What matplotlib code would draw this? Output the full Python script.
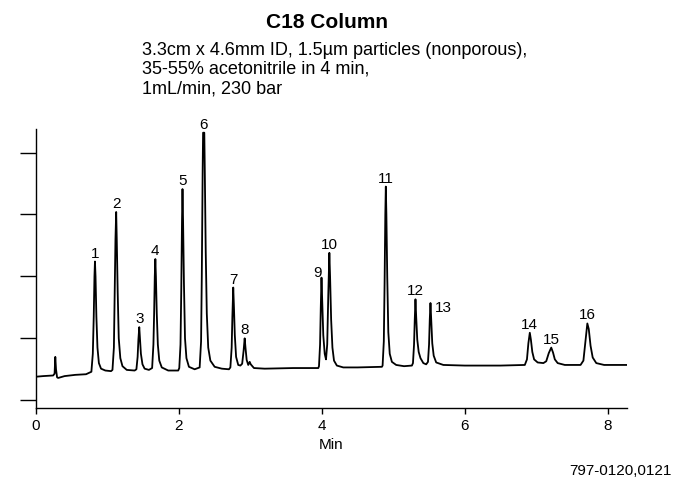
import matplotlib
matplotlib.use('Agg')
import matplotlib.pyplot as plt

plt.rcParams['font.family'] = ['Liberation Sans', 'DejaVu Sans']

# chromatogram trace (time in min, detector signal in tick units)
trace_time = [
    0.00, 0.10, 0.24, 0.26, 0.27, 0.28, 0.295, 0.31, 0.40, 0.55, 0.70,
    0.775, 0.795, 0.808, 0.818, 0.825, 0.833, 0.845, 0.86, 0.88, 0.91, 0.97, 1.05,
    1.07, 1.09, 1.10, 1.112, 1.122, 1.13, 1.143, 1.158, 1.18, 1.21, 1.27, 1.38,
    1.405, 1.422, 1.433, 1.445, 1.455, 1.468, 1.49, 1.52, 1.58,
    1.625, 1.643, 1.653, 1.662, 1.67, 1.678, 1.69, 1.705, 1.725, 1.76, 1.85, 1.99,
    2.005, 2.022, 2.033, 2.043, 2.05, 2.058, 2.07, 2.085, 2.105, 2.14, 2.22,
    2.29, 2.31, 2.32, 2.332, 2.338, 2.355, 2.362, 2.375, 2.39, 2.41, 2.44, 2.50, 2.60, 2.70,
    2.72, 2.738, 2.748, 2.76, 2.77, 2.782, 2.80, 2.83, 2.86,
    2.885, 2.905, 2.92, 2.932, 2.948, 2.97, 2.99, 3.005, 3.05, 3.20, 3.60, 3.95,
    3.96, 3.975, 3.985, 3.995, 4.005, 4.02, 4.04, 4.058,
    4.075, 4.09, 4.105, 4.115, 4.13, 4.148, 4.17, 4.21, 4.30, 4.50, 4.84,
    4.85, 4.867, 4.878, 4.888, 4.895, 4.903, 4.915, 4.93, 4.95, 4.98, 5.04, 5.15, 5.26,
    5.275, 5.29, 5.30, 5.31, 5.32, 5.335, 5.355, 5.38, 5.42, 5.46,
    5.485, 5.50, 5.51, 5.52, 5.53, 5.545, 5.565, 5.60, 5.70, 6.00, 6.50, 6.84,
    6.87, 6.89, 6.91, 6.925, 6.945, 6.97, 7.02, 7.10,
    7.14, 7.175, 7.21, 7.235, 7.26, 7.30, 7.40, 7.62,
    7.66, 7.685, 7.715, 7.735, 7.76, 7.79, 7.84, 7.95, 8.27,
]
trace_signal = [
    0.38, 0.39, 0.40, 0.43, 0.70, 0.50, 0.37, 0.36, 0.39, 0.41, 0.42,
    0.46, 0.75, 1.35, 2.00, 2.24, 2.00, 1.35, 0.85, 0.60, 0.51, 0.48, 0.47,
    0.49, 0.85, 1.60, 2.60, 3.04, 2.60, 1.75, 1.00, 0.68, 0.55, 0.49, 0.48,
    0.50, 0.70, 0.98, 1.18, 0.98, 0.75, 0.58, 0.51, 0.49,
    0.52, 0.90, 1.40, 2.00, 2.28, 2.00, 1.40, 0.90, 0.64, 0.53, 0.48, 0.48,
    0.52, 0.90, 1.80, 2.90, 3.41, 2.90, 1.90, 1.00, 0.68, 0.54, 0.50,
    0.53, 0.95, 2.00, 3.70, 4.32, 4.32, 3.70, 2.40, 1.40, 0.85, 0.64, 0.54, 0.51, 0.50,
    0.53, 0.85, 1.35, 1.82, 1.50, 1.05, 0.70, 0.57, 0.56,
    0.59, 0.80, 1.00, 0.84, 0.65, 0.57, 0.62, 0.58, 0.52, 0.51, 0.52, 0.52,
    0.55, 0.90, 1.50, 1.98, 1.60, 1.05, 0.75, 0.66,
    0.90, 1.70, 2.38, 2.00, 1.30, 0.85, 0.64, 0.56, 0.53, 0.53, 0.54,
    0.56, 0.95, 1.90, 3.00, 3.45, 3.00, 2.00, 1.10, 0.75, 0.62, 0.57, 0.55, 0.56,
    0.60, 0.90, 1.30, 1.63, 1.35, 0.98, 0.78, 0.68, 0.60, 0.58,
    0.62, 0.90, 1.30, 1.57, 1.30, 0.92, 0.72, 0.61, 0.57, 0.56, 0.56, 0.57,
    0.66, 0.92, 1.09, 0.98, 0.78, 0.66, 0.61, 0.60,
    0.63, 0.76, 0.85, 0.77, 0.66, 0.60, 0.57, 0.57,
    0.64, 0.92, 1.24, 1.15, 0.88, 0.69, 0.60, 0.57, 0.57,
]

# peak apexes and their numbers
peak_ids = [str(i) for i in range(1, 17)]
peak_time = [0.825, 1.122, 1.445, 1.67, 2.05, 2.346, 2.76, 2.92,
             3.995, 4.105, 4.895, 5.31, 5.52, 6.91, 7.21, 7.715]
peak_height = [2.24, 3.04, 1.18, 2.28, 3.41, 4.32, 1.82, 1.00,
               1.98, 2.38, 3.45, 1.63, 1.57, 1.09, 0.85, 1.24]

x_ticks = [0, 2, 4, 6, 8]
y_ticks = [0, 1, 2, 3, 4]

title = 'C18 Column'
subtitle = ['3.3cm x 4.6mm ID, 1.5\u00b5m particles (nonporous),',
            '35-55% acetonitrile in 4 min,',
            '1mL/min, 230 bar']
footer = '797-0120,0121'


def main():
    W, H = 678, 480
    fig = plt.figure(figsize=(W / 100, H / 100), dpi=100)
    ax = fig.add_axes([36 / W, 1 - 408.3 / H, (627 - 36) / W, (408.3 - 129) / H])

    ax.plot(trace_time, trace_signal, color='black', lw=1.3, solid_joinstyle='round')

    # label offsets in pixels, most numbers sit right above the apex
    offsets = {'9': (-4, 1), '13': (13, -9)}
    for pid, t, h in zip(peak_ids, peak_time, peak_height):
        dx, dy = offsets.get(pid, (0, 4))
        ax.annotate(pid, (t, h), xytext=(dx, dy), textcoords='offset pixels',
                    ha='center', va='baseline', fontsize=11)

    ax.set_xlim(0, 8.27)
    ax.set_ylim(-0.13, 4.38)
    ax.set_xticks(x_ticks)
    ax.set_yticks(y_ticks)
    ax.set_yticklabels([])
    ax.tick_params(axis='y', direction='out', length=11.5, width=1)
    ax.tick_params(axis='x', direction='out', length=4, width=1, pad=4, labelsize=11)
    ax.set_xlabel('Min', fontsize=11, labelpad=3)
    for side in ['top', 'right']:
        ax.spines[side].set_visible(False)
    for side in ['left', 'bottom']:
        ax.spines[side].set_linewidth(1)

    fig.text(327.5 / W, 1 - 28 / H, title, ha='center', va='baseline',
             fontsize=15, fontweight='bold')
    for i, line in enumerate(subtitle):
        fig.text(141.7 / W, 1 - (55 + 19 * i) / H, line, ha='left',
                 va='baseline', fontsize=13)
    fig.text(672 / W, 1 - 475 / H, footer, ha='right', va='baseline', fontsize=11)

    fig.savefig('out.png', dpi=100)


if __name__ == '__main__':
    main()
